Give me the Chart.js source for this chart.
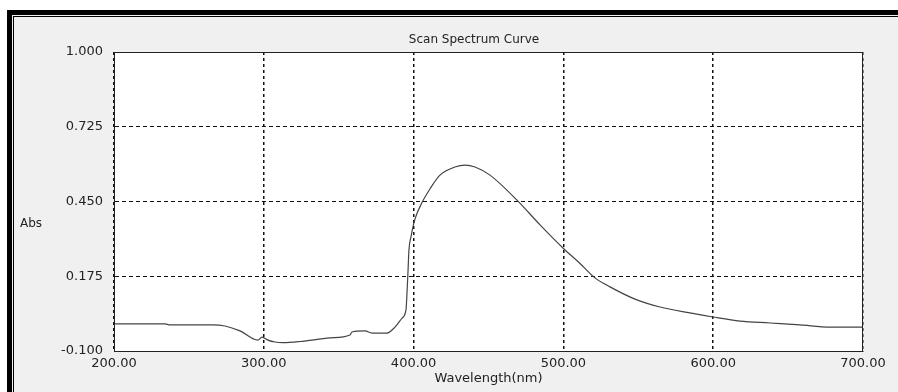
<!DOCTYPE html>
<html>
<head>
<meta charset="utf-8">
<script src="https://cdn.jsdelivr.net/npm/chart.js@4.4.1/dist/chart.umd.min.js"></script>
<style>
  html, body { margin: 0; padding: 0; background: #fff; width: 898px; height: 392px; overflow: hidden; }
  .frame {
    position: absolute; left: 7px; top: 10px; right: 0; bottom: 0;
    background: #f0f0f0;
    border-top: 5px solid #000; border-left: 5px solid #000;
  }
  .frame .inner {
    position: absolute; left: 1px; top: 1px; right: 0; bottom: 0;
    border-top: 1px solid #000; border-left: 1px solid #000;
  }
  #chart-wrap { position: absolute; left: 0; top: 0; width: 898px; height: 392px; }
</style>
</head>
<body>
<div class="frame"><div class="inner"></div></div>
<div id="chart-wrap"><canvas id="spectrum"></canvas></div>
<script>
// Длина волны (нм) и поглощение
const wavelengths = [200, 234, 237.4, 265.4, 274.1, 284.1, 296.1, 298.8, 302.8, 307.5, 312.8, 324.2,
  344.2, 357.5, 358.9, 367.6, 372.2, 382.2, 387.6, 392.3, 394.9, 395.6, 396.3, 396.9, 398.3,
  400.9, 405.6, 410.9, 417.6, 427.6, 434.3, 441.0, 451.0, 469.0, 484.4, 499.7, 511.1, 521.1,
  531.1, 547.8, 564.5, 584.5, 599.9, 617.9, 637.9, 658.0, 678.0, 700];
const absorbance = [0.000, 0.000, -0.004, -0.004, -0.008, -0.026, -0.060, -0.049, -0.060, -0.067, -0.069, -0.065,
  -0.052, -0.041, -0.030, -0.026, -0.034, -0.034, -0.012, 0.021, 0.051, 0.113, 0.198, 0.272, 0.322,
  0.385, 0.446, 0.496, 0.547, 0.577, 0.584, 0.577, 0.547, 0.455, 0.364, 0.279, 0.222, 0.169,
  0.136, 0.091, 0.062, 0.040, 0.025, 0.010, 0.003, -0.004, -0.012, -0.012];

const xTicks = [200, 300, 400, 500, 600, 700];
const yTicks = [-0.100, 0.175, 0.450, 0.725, 1.000];

const chartTitle = 'Scan Spectrum Curve';
const yLabel = 'Abs';
const xLabel = 'Wavelength(nm)';

const points = wavelengths.map((w, i) => ({ x: w, y: absorbance[i] }));

// белый фон области графика + рамка + подписи
const plotFrame = {
  id: 'plotFrame',
  beforeDraw(chart) {
    const { ctx, chartArea: a } = chart;
    ctx.save();
    ctx.fillStyle = '#fff';
    ctx.fillRect(a.left, a.top, a.right - a.left, a.bottom - a.top);
    ctx.restore();
  },
  afterDraw(chart) {
    const { ctx, chartArea: a } = chart;
    ctx.save();
    ctx.strokeStyle = '#222';
    ctx.lineWidth = 1;
    ctx.strokeRect(a.left + 0.5, a.top + 0.5, a.right - a.left - 1, a.bottom - a.top);
    ctx.fillStyle = '#222';
    ctx.font = '12px "DejaVu Sans"';
    ctx.textAlign = 'center';
    ctx.textBaseline = 'middle';
    ctx.fillText(chartTitle, 474, 40);
    ctx.textAlign = 'left';
    ctx.fillText(yLabel, 20, 224);
    ctx.restore();
  }
};

const ctx = document.getElementById('spectrum').getContext('2d');
const spectrumChart = new Chart(ctx, {
  type: 'line',
  data: {
    datasets: [{
      data: points,
      borderColor: '#444',
      borderWidth: 1.2,
      pointRadius: 0,
      fill: false,
      cubicInterpolationMode: 'monotone'
    }]
  },
  options: {
    responsive: true,
    maintainAspectRatio: false,
    animation: false,
    layout: { padding: { left: 0, top: 52, right: 35, bottom: 0 } },
    plugins: { legend: { display: false }, tooltip: { enabled: false }, title: { display: false } },
    scales: {
      x: {
        type: 'linear',
        min: 200,
        max: 700,
        afterBuildTicks: scale => { scale.ticks = xTicks.map(v => ({ value: v })); },
        afterFit: scale => { scale.height = 41; },
        ticks: {
          padding: 5,
          color: '#222',
          font: { family: 'DejaVu Sans', size: 13 },
          maxRotation: 0,
          callback: v => Number(v).toFixed(2)
        },
        grid: { color: '#111', lineWidth: 1.5, drawTicks: false },
        border: { display: true, color: '#111', width: 1, dash: [3, 3] },
        title: {
          display: true,
          text: xLabel,
          color: '#222',
          font: { family: 'DejaVu Sans', size: 13 },
          padding: { top: 0, bottom: 6 }
        }
      },
      y: {
        type: 'linear',
        min: -0.1,
        max: 1.0,
        afterBuildTicks: scale => { scale.ticks = yTicks.map(v => ({ value: v })); },
        afterFit: scale => { scale.width = 114; },
        ticks: {
          padding: 11,
          color: '#222',
          font: { family: 'DejaVu Sans', size: 13 },
          callback: v => Number(v).toFixed(3)
        },
        grid: { color: '#111', lineWidth: 1, drawTicks: false },
        border: { display: true, color: '#111', width: 1, dash: [4, 3] }
      }
    }
  },
  plugins: [plotFrame]
});
</script>
</body>
</html>
